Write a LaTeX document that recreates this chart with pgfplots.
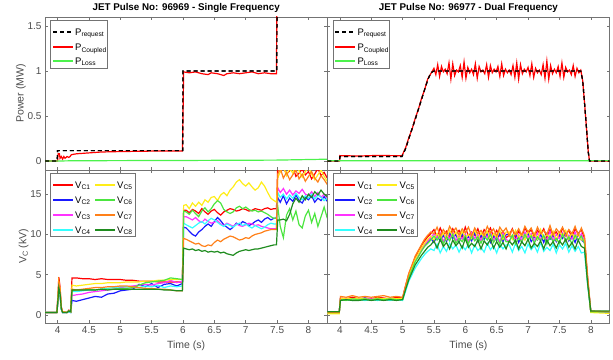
\documentclass[border=0pt]{standalone}
\usepackage{fontspec}
\setmainfont{Liberation Sans}
\usepackage{pgfplots}
\usepackage{pgfplotstable}
\pgfplotsset{compat=1.18}
\definecolor{cR}{rgb}{1,0,0}
\definecolor{cB}{rgb}{0.1,0.1,1}
\definecolor{cM}{rgb}{1,0.2,1}
\definecolor{cC}{rgb}{0.2,1,1}
\definecolor{cY}{rgb}{1,0.93,0.1}
\definecolor{cG}{rgb}{0.3,0.9,0.25}
\definecolor{cO}{rgb}{1,0.5,0.1}
\definecolor{cD}{rgb}{0.12,0.55,0.12}
\definecolor{cL}{rgb}{0.3,0.95,0.3}
\definecolor{axc}{rgb}{0.45,0.45,0.45}
\definecolor{txc}{rgb}{0.3,0.3,0.3}
\tikzset{
  tr/.style={line width=1.2pt},
  rq/.style={black, dash pattern=on 4pt off 3pt, line width=1.2pt},
}

\newcommand{\legbox}[2]{%
  \draw[axc, line width=0.5pt, fill=white] ([shift={(5.5pt,-3pt)}]rel axis cs:0,1) rectangle ([shift={(#1pt,#2pt)}]rel axis cs:0,1);}
\newcommand{\legline}[4]{%
  \draw[#1] ([shift={(#2pt,#3pt)}]rel axis cs:0,1) -- ++(20pt,0pt);
  \node[anchor=base west, inner sep=0pt, font=\fontsize{9.5}{10}\selectfont] at ([shift={(#2pt+22pt,#3pt-3.4pt)}]rel axis cs:0,1) {#4};}

\pgfplotstableread{
t a b c d e f g h
3.80 0.3 0.3 0.3 0.3 0.3 0.3 0.3 0.3
3.99 0.3 0.3 0.3 0.3 0.3 0.3 0.3 0.3
4.01 3.0 2.0 2.3 2.1 2.6 2.1 2.6 2.2
4.02 4.7 3.0 3.5 3.2 4.1 3.4 4.0 3.4
4.04 3.5 2.4 2.7 2.5 3.2 2.6 3.1 2.7
4.06 1.0 0.7 0.8 0.7 0.9 0.8 0.9 0.8
4.08 0.4 0.3 0.3 0.3 0.4 0.3 0.4 0.3
4.15 0.3 0.3 0.3 0.3 0.3 0.3 0.3 0.3
4.18 0.6 0.4 0.5 0.4 0.5 0.5 0.5 0.5
4.21 0.4 0.3 0.4 0.3 0.4 0.4 0.4 0.4
4.23 4.6 1.8 2.4 2.9 3.7 3.0 3.2 3.1
4.30 4.6 1.7 2.5 2.9 3.6 3.1 3.1 3.1
4.40 4.5 1.9 2.6 3.0 3.7 3.1 3.2 3.1
4.50 4.5 2.1 2.8 3.1 3.8 3.2 3.3 3.1
4.60 4.4 2.3 2.9 3.1 3.9 3.1 3.4 3.1
4.70 4.5 2.2 3.0 3.2 3.9 3.2 3.4 3.2
4.80 4.4 2.6 3.1 3.3 4.0 3.2 3.5 3.1
4.90 4.4 2.7 3.2 3.4 4.0 3.2 3.5 3.2
5.00 4.4 3.0 3.4 3.5 4.0 3.3 3.6 3.2
5.10 4.3 3.1 3.5 3.5 4.1 3.3 3.6 3.2
5.20 4.3 3.2 3.6 3.5 4.1 3.4 3.5 3.2
5.30 4.2 3.8 3.7 3.4 4.1 3.7 3.4 3.2
5.40 4.2 3.5 3.8 3.6 4.2 4.0 3.3 3.2
5.50 4.2 3.9 3.7 3.5 4.2 4.1 3.3 3.2
5.60 4.1 3.4 3.9 3.7 4.3 4.2 3.2 3.2
5.70 4.1 3.8 4.0 3.4 4.3 4.3 3.2 3.1
5.80 4.1 3.9 4.3 3.6 4.4 4.6 3.1 3.1
5.90 4.1 3.6 4.0 3.5 4.4 4.5 3.0 3.0
5.99 4.1 3.9 4.2 3.6 4.4 4.4 3.0 3.0
6.01 13.0 10.9 12.2 11.4 13.6 12.9 9.5 8.3
6.05 13.0 10.8 12.2 11.2 13.7 12.8 9.4 8.2
6.10 12.7 10.4 12.0 11.0 13.2 12.5 9.2 8.1
6.15 13.1 10.0 11.8 10.8 13.9 13.0 9.0 8.2
6.20 12.9 9.8 12.1 11.1 13.5 12.6 8.8 8.0
6.25 12.6 10.3 11.7 11.4 14.0 12.2 8.9 8.1
6.30 13.2 10.6 11.5 11.6 13.6 12.9 8.6 7.9
6.35 12.8 11.0 11.9 11.3 14.3 13.3 8.5 8.0
6.40 12.5 11.3 11.6 11.7 14.0 12.8 8.7 7.8
6.45 12.9 11.0 11.4 12.0 14.6 13.2 8.6 7.9
6.50 13.1 11.6 11.5 11.8 14.7 13.8 9.0 7.8
6.55 12.7 12.1 11.7 11.5 14.2 14.2 9.3 7.9
6.60 12.4 11.7 11.3 11.2 14.9 13.9 9.1 7.7
6.65 12.8 11.2 11.1 11.0 15.2 13.1 9.4 7.8
6.70 13.0 10.9 11.4 11.3 14.8 12.8 9.6 7.6
6.75 13.2 10.6 11.2 11.1 15.5 12.6 9.8 7.5
6.80 13.1 10.9 11.0 10.9 15.9 12.8 9.7 7.4
6.85 12.9 11.4 11.3 11.2 16.5 13.3 9.5 7.7
6.90 13.0 11.2 11.1 11.4 16.8 13.5 9.3 7.9
6.95 13.2 11.6 11.0 11.1 16.3 13.2 9.4 8.0
7.00 13.1 11.4 11.2 11.3 16.0 13.4 9.6 8.1
7.05 12.9 11.1 11.4 11.0 16.4 13.1 9.5 8.0
7.10 13.0 11.3 11.3 10.8 15.9 12.9 9.8 8.1
7.15 13.2 11.6 11.1 11.1 15.5 13.0 10.0 8.2
7.20 13.1 11.8 11.2 10.9 15.8 12.8 10.1 8.2
7.25 13.0 11.5 11.0 10.7 16.5 12.9 10.2 8.3
7.30 13.2 11.9 10.9 10.9 16.0 12.7 10.4 8.4
7.35 13.3 12.1 10.8 11.2 15.2 12.5 10.5 8.5
7.40 13.1 11.8 10.7 11.4 14.5 12.2 10.6 8.6
7.45 13.2 12.0 10.7 11.3 14.2 12.0 10.6 8.7
7.49 13.2 12.0 10.7 11.3 14.0 12.0 10.6 8.7
7.51 18.5 14.6 15.8 15.2 17.0 13.5 17.5 11.8
7.55 17.8 14.0 15.2 14.6 17.8 11.0 18.2 11.8
7.60 18.3 14.8 15.7 15.0 18.5 9.6 17.0 11.9
7.65 17.5 13.8 15.0 14.4 17.3 12.4 17.7 11.7
7.70 17.9 14.5 15.5 14.9 18.2 13.2 16.8 12.5
7.75 18.4 14.1 14.9 14.5 17.6 11.8 17.4 13.8
7.80 17.2 14.9 15.4 15.1 18.6 12.9 18.0 14.5
7.85 17.6 14.2 15.1 14.6 17.9 11.2 16.9 14.0
7.90 18.1 13.9 15.6 14.3 17.1 10.8 17.5 14.8
7.95 17.4 14.6 15.0 14.8 17.8 12.3 16.6 14.3
8.00 17.8 14.3 14.8 14.5 18.4 13.0 17.2 15.0
8.05 16.9 14.8 15.3 15.0 17.5 11.5 17.8 14.6
8.10 17.5 14.0 14.7 14.4 16.8 12.6 17.0 15.3
8.15 18.2 14.5 15.2 14.9 17.4 11.0 16.5 14.9
8.20 17.3 14.2 14.6 14.6 18.0 12.2 17.3 15.5
8.25 17.7 14.7 15.0 14.2 17.2 13.4 16.8 15.0
8.30 17.0 14.1 14.5 14.5 16.6 12.0 16.2 14.7
}\VL

\pgfplotstableread{
t a b c d e f g h
3.80 0.3 0.3 0.3 0.3 0.15 0.3 0.3 0.4
3.99 0.3 0.3 0.3 0.3 0.15 0.3 0.3 0.4
4.01 2.1 2.0 2.0 1.8 2.0 1.9 2.3 1.8
4.10 2.0 1.9 2.1 1.9 2.1 1.8 2.2 1.9
4.20 2.2 2.0 1.9 1.8 2.0 2.0 2.4 1.8
4.30 2.0 1.9 2.0 1.9 2.1 1.9 2.2 1.8
4.40 2.1 2.1 2.0 1.8 2.0 2.0 2.3 1.9
4.50 2.0 1.9 2.1 1.9 1.9 1.9 2.2 1.8
4.60 2.2 2.0 2.0 1.8 2.1 2.0 2.3 1.9
4.70 2.1 1.9 1.9 1.9 2.0 1.9 2.4 1.8
4.80 2.0 2.0 2.1 1.8 2.1 2.0 2.2 1.9
4.90 2.2 1.9 2.0 1.9 2.0 1.9 2.3 1.8
5.00 2.1 2.0 2.0 1.8 2.0 1.9 2.2 1.9
5.05 3.7 3.5 3.5 3.0 3.6 3.4 3.7 3.2
5.10 5.1 4.8 4.9 4.2 5.0 4.7 5.2 4.4
5.15 6.1 5.8 5.8 5.0 5.9 5.6 6.2 5.3
5.20 7.1 6.7 6.8 5.8 6.9 6.6 7.3 6.2
5.25 7.9 7.4 7.5 6.4 7.6 7.2 8.0 6.8
5.30 8.6 8.1 8.1 7.0 8.3 7.9 8.7 7.4
5.35 9.2 8.6 8.7 7.5 8.9 8.5 9.4 7.9
5.40 9.7 9.1 9.2 7.9 9.4 8.9 9.9 8.4
5.45 10.1 9.5 9.6 8.2 9.8 9.3 10.3 8.7
5.50 10.6 9.0 10.1 8.0 9.3 9.8 10.1 9.2
5.55 9.7 9.8 9.6 8.8 10.1 9.3 10.9 8.3
5.60 10.8 9.2 10.2 7.7 9.5 9.9 9.8 9.4
5.65 9.9 9.9 9.1 8.5 10.2 8.8 10.6 8.5
5.70 10.4 9.1 10.0 7.9 9.4 9.7 10.0 9.0
5.75 9.6 10.2 9.5 8.9 10.5 9.2 11.0 8.2
5.80 10.7 9.5 10.3 8.2 9.8 10.0 10.3 9.3
5.85 10.0 10.0 9.2 8.7 10.3 8.9 10.8 8.6
5.90 10.5 9.0 9.8 7.8 9.3 9.5 9.9 9.1
5.95 9.7 10.1 9.4 8.6 10.4 9.1 10.7 8.3
6.00 10.9 9.3 10.1 8.1 9.6 9.8 10.2 9.5
6.05 9.8 9.7 9.1 8.8 10.0 8.8 10.9 8.4
6.10 10.3 9.2 10.2 7.7 9.5 9.9 9.8 8.9
6.15 9.9 10.3 9.5 8.7 10.6 9.2 10.8 8.5
6.20 10.7 9.1 10.0 8.0 9.4 9.7 10.1 9.3
6.25 9.6 9.9 9.2 8.4 10.2 8.9 10.5 8.2
6.30 10.6 9.4 10.1 7.8 9.7 9.8 9.9 9.2
6.35 10.1 10.1 9.6 8.9 10.4 9.3 11.0 8.7
6.40 10.8 9.0 10.3 8.1 9.3 10.0 10.2 9.4
6.45 9.7 9.8 9.3 8.6 10.1 9.0 10.7 8.3
6.50 10.5 9.3 9.9 7.7 9.6 9.6 9.8 9.1
6.55 9.8 10.2 9.1 8.8 10.5 8.8 10.9 8.4
6.60 10.4 9.1 10.2 8.2 9.4 9.9 10.3 9.0
6.65 9.6 10.0 9.4 8.7 10.3 9.1 10.8 8.2
6.70 9.9 10.0 9.1 8.7 10.3 9.1 9.8 9.2
6.75 10.7 9.5 9.9 7.8 9.4 9.9 10.6 8.7
6.80 9.6 10.1 9.3 8.9 10.5 8.8 10.0 9.3
6.85 10.4 9.0 10.0 8.0 9.6 9.6 10.7 8.2
6.90 9.8 9.9 9.2 8.5 10.1 9.0 9.9 9.1
6.95 10.8 9.4 10.3 7.7 9.3 10.0 11.0 8.6
7.00 10.1 10.2 9.6 8.8 10.4 9.3 10.3 9.4
7.05 10.6 9.1 10.1 8.1 9.7 9.8 10.8 8.3
7.10 9.7 9.7 9.1 8.6 10.2 8.9 9.8 8.9
7.15 10.5 9.3 10.2 7.8 9.4 9.7 10.9 8.5
7.20 10.0 10.0 9.4 9.0 10.6 9.2 10.1 9.2
7.25 10.7 9.0 9.8 7.9 9.5 9.9 10.5 8.2
7.30 9.6 10.1 9.3 8.4 10.0 8.8 10.0 9.3
7.35 10.6 9.4 10.4 8.0 9.6 9.8 11.1 8.6
7.40 9.9 9.9 9.2 8.8 10.4 9.1 9.9 9.1
7.45 10.3 9.1 10.0 7.7 9.3 9.5 10.7 8.3
7.50 9.7 10.0 9.5 8.7 10.3 8.9 10.2 9.2
7.55 10.8 9.5 10.2 8.2 9.8 10.0 10.9 8.7
7.60 10.0 10.2 9.1 8.9 10.5 9.2 9.8 9.4
7.65 10.5 9.2 9.9 7.8 9.4 9.7 10.6 8.4
7.70 9.6 9.8 9.4 8.6 10.2 8.8 10.1 9.0
7.75 10.7 9.0 10.3 7.9 9.5 9.9 11.0 8.2
7.80 10.1 10.1 9.2 8.5 10.1 9.3 9.9 9.3
7.85 10.6 9.3 10.1 7.7 9.3 9.8 10.8 8.5
7.90 9.5 9.0 9.2 7.8 9.3 8.9 9.8 8.3
7.95 4.5 4.2 4.3 3.7 4.4 4.1 4.8 3.9
8.00 0.4 0.4 0.4 0.4 0.3 0.4 0.5 0.5
8.30 0.4 0.3 0.4 0.4 0.2 0.4 0.4 0.5
}\VR

\pgfplotsset{
  panel/.style={
    scale only axis, width=282.3pt, height=153pt,
    xmin=3.8, xmax=8.3, xtick={4,4.5,5,5.5,6,6.5,7,7.5,8},
    tick align=inside, major tick length=3pt,
    axis line style={axc, line width=0.6pt},
    every tick/.style={axc, line width=0.5pt},
    tick label style={font=\fontsize{10}{11}\selectfont, color=txc},
    /pgf/number format/assume math mode=true,
    label style={font=\fontsize{10.5}{12}\selectfont, color=txc},
    ylabel style={yshift=-5pt},
    title style={font=\bfseries\fontsize{9.8}{11}\selectfont, yshift=-5pt},
  },
}

\begin{document}
\begin{tikzpicture}
\useasboundingbox (0,0) rectangle (613pt,359pt);

% top left
\begin{axis}[panel, at={(45pt,189pt)}, anchor=south west,
  ymin=-0.1, ymax=1.6, ytick={0,0.5,1,1.5}, xticklabels={},
  ylabel={Power (MW)}, title={JET Pulse No: 96969 - Single Frequency}]
\addplot[rq] coordinates {(3.8,0) (3.995,0) (4.0,0.115) (5.995,0.115) (6.0,1.0) (7.495,1.0) (7.5,2.5) (8.3,2.5)};
\addplot[color=cR, tr] coordinates {(3.8,0) (4.0,0) (4.01,0.08) (4.03,0.08) (4.04,0.03) (4.06,0.05) (4.08,0.02) (4.1,0.05) (4.12,0.03) (4.15,0.05) (4.18,0.04) (4.2,0.05) (4.22,0.07) (4.3,0.08) (4.5,0.09) (4.7,0.1) (5.0,0.105) (5.5,0.11) (5.99,0.11) (6.0,0.5) (6.01,0.99) (6.1,0.98) (6.2,0.99) (6.3,0.97) (6.4,0.96) (6.45,0.98) (6.55,0.97) (6.65,0.95) (6.7,0.97) (6.8,0.98) (6.9,0.97) (7.0,0.98) (7.1,0.99) (7.2,0.97) (7.3,0.98) (7.4,0.97) (7.49,0.97) (7.5,2.5) (8.3,2.5)};
\addplot[color=cL, tr] coordinates {(3.8,0) (4.0,0) (4.3,0.003) (6,0.006) (7.5,0.01) (8.3,0.02)};
\addplot[rq] coordinates {(3.8,0) (3.995,0) (4.0,0.115) (5.995,0.115) (6.0,1.0) (7.495,1.0) (7.5,2.5) (8.3,2.5)};
\legbox{62}{-51}
\legline{rq}{8}{-15}{P\textsubscript{request}}
\legline{cR, tr}{8}{-30}{P\textsubscript{Coupled}}
\legline{cL, tr}{8}{-44}{P\textsubscript{Loss}}
\end{axis}

% top right
\begin{axis}[panel, at={(327.3pt,189pt)}, anchor=south west,
  ymin=-0.1, ymax=1.6, ytick={0,0.5,1,1.5}, xticklabels={}, yticklabels={},
  title={JET Pulse No: 96977 - Dual Frequency}]
\addplot[rq] coordinates {(3.8,0) (3.995,0) (4.0,0.05) (4.99,0.05) (5.05,0.14) (5.1,0.25) (5.2,0.46) (5.3,0.68) (5.4,0.9) (5.45,0.98) (5.5,1.0) (7.84,1.0) (7.87,0.9) (7.9,0.65) (7.93,0.38) (7.96,0.1) (7.98,0) (8.3,0)};
\addplot[color=cR, tr] coordinates {(3.8,0) (3.995,0) (4.0,0.06) (4.3,0.055) (4.6,0.062) (4.99,0.058) (5.05,0.15) (5.1,0.26) (5.15,0.35) (5.2,0.47) (5.25,0.57) (5.3,0.69) (5.35,0.79) (5.4,0.91) (5.45,0.97)
(5.50,1.03) (5.53,0.96) (5.56,1.07) (5.59,0.94) (5.62,1.05) (5.65,0.99) (5.68,1.02) (5.71,0.97) (5.74,1.09) (5.77,0.91) (5.80,1.08) (5.83,0.95) (5.86,1.01) (5.89,0.99) (5.92,1.06) (5.95,0.93) (5.98,1.10) (6.01,0.92) (6.04,1.04) (6.07,0.98) (6.10,1.02) (6.13,0.96) (6.16,1.08) (6.19,0.92) (6.22,1.05) (6.25,0.99) (6.28,1.01) (6.31,0.97) (6.34,1.07) (6.37,0.93) (6.40,1.06) (6.43,0.98) (6.46,1.02) (6.49,0.99) (6.52,1.05) (6.55,0.94) (6.58,1.08) (6.61,0.95) (6.64,1.02) (6.67,0.98) (6.70,1.01) (6.73,0.96) (6.76,1.06) (6.79,0.93) (6.82,1.09) (6.85,0.91) (6.88,1.07) (6.91,0.97) (6.94,1.02) (6.97,0.99) (7.00,1.04) (7.03,0.95) (7.06,1.08) (7.09,0.93) (7.12,1.03) (7.15,0.98) (7.18,1.01) (7.21,0.96) (7.24,1.07) (7.27,0.92) (7.30,1.11) (7.33,0.91) (7.36,1.06) (7.39,0.97) (7.42,1.02) (7.45,0.98) (7.48,1.05) (7.51,0.94) (7.54,1.09) (7.57,0.93) (7.60,1.04) (7.63,0.99) (7.66,1.01) (7.69,0.96) (7.72,1.06) (7.75,0.94) (7.78,1.03) (7.81,0.98) (7.84,1.01)
(7.87,0.9) (7.90,0.65) (7.93,0.38) (7.96,0.1) (7.98,0) (8.3,0)};
\addplot[color=cL, tr] coordinates {(3.8,0.002) (8.3,0.004)};
\addplot[rq] coordinates {(3.8,0) (3.995,0) (4.0,0.05) (4.99,0.05) (5.05,0.14) (5.1,0.25) (5.2,0.46) (5.3,0.68) (5.4,0.9) (5.45,0.98) (5.5,1.0) (7.84,1.0) (7.87,0.9) (7.9,0.65) (7.93,0.38) (7.96,0.1) (7.98,0) (8.3,0)};
\legbox{62}{-51}
\legline{rq}{8}{-15}{P\textsubscript{request}}
\legline{cR, tr}{8}{-30}{P\textsubscript{Coupled}}
\legline{cL, tr}{8}{-44}{P\textsubscript{Loss}}
\end{axis}

% bottom left
\begin{axis}[panel, at={(45pt,36pt)}, anchor=south west,
  ymin=-1, ymax=18, ytick={0,5,10,15},
  xlabel={Time (s)}, ylabel={V\textsubscript{C} (kV)}]
\addplot[color=cR, tr] table[x=t,y=a] {\VL};
\addplot[color=cB, tr] table[x=t,y=b] {\VL};
\addplot[color=cM, tr] table[x=t,y=c] {\VL};
\addplot[color=cC, tr] table[x=t,y=d] {\VL};
\addplot[color=cY, tr] table[x=t,y=e] {\VL};
\addplot[color=cG, tr] table[x=t,y=f] {\VL};
\addplot[color=cO, tr] table[x=t,y=g] {\VL};
\addplot[color=cD, tr] table[x=t,y=h] {\VL};
\legbox{90}{-66}
\legline{cR, tr}{8}{-15}{V\textsubscript{C1}}
\legline{cB, tr}{8}{-30}{V\textsubscript{C2}}
\legline{cM, tr}{8}{-45}{V\textsubscript{C3}}
\legline{cC, tr}{8}{-60}{V\textsubscript{C4}}
\legline{cY, tr}{50}{-15}{V\textsubscript{C5}}
\legline{cG, tr}{50}{-30}{V\textsubscript{C6}}
\legline{cO, tr}{50}{-45}{V\textsubscript{C7}}
\legline{cD, tr}{50}{-60}{V\textsubscript{C8}}
\end{axis}

% bottom right
\begin{axis}[panel, at={(327.3pt,36pt)}, anchor=south west,
  ymin=-1, ymax=18, ytick={0,5,10,15}, yticklabels={},
  xlabel={Time (s)}]
\addplot[color=cR, tr] table[x=t,y=a] {\VR};
\addplot[color=cB, tr] table[x=t,y=b] {\VR};
\addplot[color=cM, tr] table[x=t,y=c] {\VR};
\addplot[color=cC, tr] table[x=t,y=d] {\VR};
\addplot[color=cY, tr] table[x=t,y=e] {\VR};
\addplot[color=cG, tr] table[x=t,y=f] {\VR};
\addplot[color=cO, tr] table[x=t,y=g] {\VR};
\addplot[color=cD, tr] table[x=t,y=h] {\VR};
\legbox{90}{-66}
\legline{cR, tr}{8}{-15}{V\textsubscript{C1}}
\legline{cB, tr}{8}{-30}{V\textsubscript{C2}}
\legline{cM, tr}{8}{-45}{V\textsubscript{C3}}
\legline{cC, tr}{8}{-60}{V\textsubscript{C4}}
\legline{cY, tr}{50}{-15}{V\textsubscript{C5}}
\legline{cG, tr}{50}{-30}{V\textsubscript{C6}}
\legline{cO, tr}{50}{-45}{V\textsubscript{C7}}
\legline{cD, tr}{50}{-60}{V\textsubscript{C8}}
\end{axis}
\end{tikzpicture}
\end{document}
